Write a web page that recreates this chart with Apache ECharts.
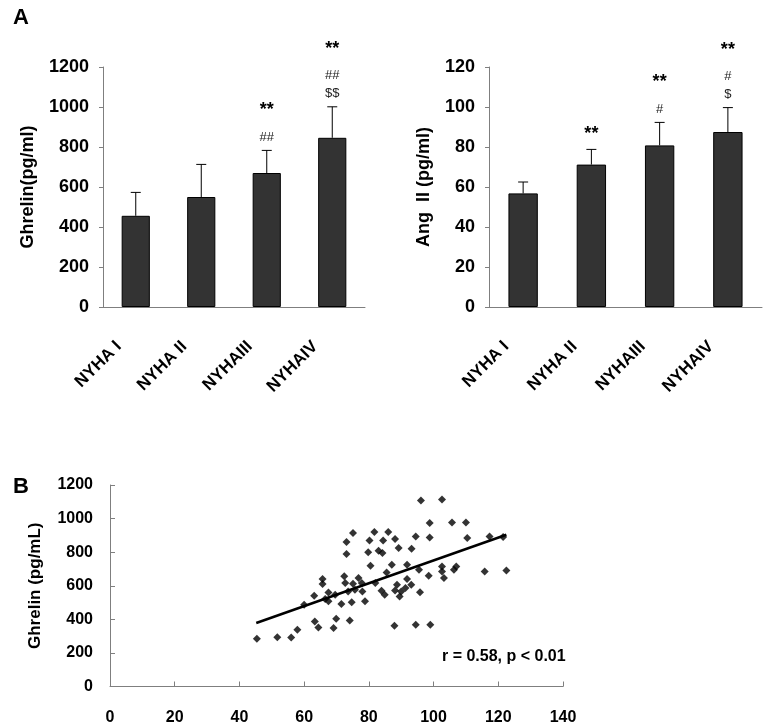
<!DOCTYPE html>
<html>
<head>
<meta charset="utf-8">
<script src="https://cdn.jsdelivr.net/npm/echarts@6/dist/echarts.min.js"></script>
<style>
  html, body { margin: 0; padding: 0; background: #fff; }
  #chart { width: 768px; height: 727px; }
</style>
</head>
<body>
<div id="chart"></div>
<script>
// bar panels
const cats = ['NYHA I', 'NYHA II', 'NYHAIII', 'NYHAIV'];
const ghrelinMean = [456, 550, 670, 846];
const ghrelinSD = [117, 163, 113, 155];
const ghrelinStars = ['', '', '**', '**'];
const ghrelinHash = ['', '', '##', '##'];
const ghrelinDollar = ['', '', '', '$$'];

const angMean = [56.8, 71.2, 80.8, 87.5];
const angSD = [5.7, 7.6, 11.5, 12.2];
const angStars = ['', '**', '**', '**'];
const angHash = ['', '', '#', '#'];
const angDollar = ['', '', '', '$'];

// scatter panel: Ang II vs Ghrelin
const scatterX = [45.4, 51.7, 56.0, 57.9, 60.0, 63.3, 64.4, 63.1, 65.7, 65.7, 66.5, 67.5, 67.5, 69.6, 69.1, 69.9,
  71.5, 72.4, 72.7, 73.1, 73.1, 73.6, 74.1, 74.7, 75.1, 75.1, 75.7, 76.8, 77.8, 78.0, 78.8, 79.8, 80.2, 80.5,
  81.7, 82.0, 83.0, 83.9, 84.2, 84.4, 84.9, 85.5, 86.0, 87.1, 87.9, 88.1, 88.1, 88.7, 89.2, 89.5, 90.0, 91.3,
  91.8, 91.8, 93.1, 93.2, 94.5, 94.5, 95.5, 95.8, 96.1, 98.5, 98.8, 98.8, 99.0, 102.6, 102.6, 102.6, 103.2,
  105.7, 106.3, 107.0, 110.0, 110.4, 115.8, 117.3, 121.5, 122.5];
const scatterY = [284, 294, 292, 338, 487, 387, 352, 540, 640, 610, 521, 560, 507, 546, 348, 403,
  491, 656, 616, 860, 789, 566, 393, 501, 914, 612, 576, 646, 616, 566, 507, 799, 870, 719,
  920, 616, 809, 570, 795, 870, 546, 679, 920, 725, 362, 878, 572, 606, 825, 536, 566, 586,
  725, 640, 606, 821, 894, 368, 695, 562, 1107, 660, 974, 888, 368, 1113, 715, 685, 646,
  977, 695, 715, 977, 884, 685, 894, 890, 691];
const fitX = [45.2, 122.5];
const fitY = [378, 904];

const axisGray = '#7f7f7f';
const font = 'Arial, "Liberation Sans", sans-serif';
const plain = v => String(v);

const errorBars = (xi, yi, means, sds) => ({
  type: 'custom',
  xAxisIndex: xi, yAxisIndex: yi,
  data: means.map((m, i) => [i, m, sds[i]]),
  z: 5,
  renderItem: (params, api) => {
    const i = api.value(0), m = api.value(1), e = api.value(2);
    const a = api.coord([i, m]);
    const b = api.coord([i, m + e]);
    return {
      type: 'group',
      children: [
        { type: 'line', shape: { x1: a[0], y1: a[1], x2: b[0], y2: b[1] }, style: { stroke: '#000', lineWidth: 1 } },
        { type: 'line', shape: { x1: b[0] - 5, y1: b[1], x2: b[0] + 5, y2: b[1] }, style: { stroke: '#000', lineWidth: 1 } }
      ]
    };
  }
});

const marks = (xi, yi, means, sds, stars, hash, dollar) => ({
  type: 'custom',
  xAxisIndex: xi, yAxisIndex: yi,
  data: means.map((m, i) => [i, m + sds[i]]),
  z: 6,
  renderItem: (params, api) => {
    const i = params.dataIndex;
    const p = api.coord([api.value(0), api.value(1)]);
    const kids = [];
    let y = p[1] - 13;
    const syms = [dollar[i], hash[i]].filter(s => s);
    syms.forEach(s => {
      kids.push({ type: 'text', x: p[0], y: y, style: { text: s, font: '13px ' + font, fill: '#222', align: 'center', verticalAlign: 'middle' } });
      y -= 18;
    });
    if (stars[i]) {
      const sy = syms.length ? y + 18 - 27 : p[1] - 15;
      kids.push({ type: 'text', x: p[0], y: sy, style: { text: stars[i], font: 'bold 18px ' + font, fill: '#000', align: 'center', verticalAlign: 'middle' } });
    }
    return { type: 'group', children: kids };
  }
});

const catAxis = (gi) => ({
  type: 'category', gridIndex: gi, data: cats,
  axisLine: { lineStyle: { color: axisGray, width: 1 } },
  axisTick: { inside: true, length: 5, lineStyle: { color: axisGray } },
  axisLabel: { rotate: 45, margin: 20, padding: [0, 24, 0, 0], color: '#000', fontWeight: 'bold', fontSize: 17, fontFamily: font, interval: 0 }
});

const valAxis = (gi, max, interval, name, gap) => ({
  type: 'value', gridIndex: gi, min: 0, max: max, interval: interval,
  name: name, nameLocation: 'middle', nameGap: gap,
  nameTextStyle: { color: '#000', fontWeight: 'bold', fontSize: 18, fontFamily: font },
  axisLine: { show: true, lineStyle: { color: axisGray, width: 1 } },
  axisTick: { show: true, length: 4, lineStyle: { color: axisGray } },
  axisLabel: { margin: 14, color: '#000', fontWeight: 'bold', fontSize: 18, fontFamily: font, formatter: plain },
  splitLine: { show: false }
});

const chart = echarts.init(document.getElementById('chart'));
chart.setOption({
  backgroundColor: '#fff',
  animation: false,
  grid: [
    { left: 103, top: 67, width: 262, height: 240 },
    { left: 489, top: 67, width: 273, height: 240 },
    { left: 110, top: 485, width: 453, height: 201.5 }
  ],
  xAxis: [
    catAxis(0),
    catAxis(1),
    {
      type: 'value', gridIndex: 2, min: 0, max: 140, interval: 20,
      axisLine: { lineStyle: { color: axisGray, width: 1 } },
      axisTick: { inside: true, length: 5, lineStyle: { color: axisGray } },
      axisLabel: { margin: 23, color: '#000', fontWeight: 'bold', fontSize: 16, fontFamily: font, formatter: plain },
      splitLine: { show: false }
    }
  ],
  yAxis: [
    valAxis(0, 1200, 200, 'Ghrelin(pg/ml)', 66),
    valAxis(1, 120, 20, 'Ang  II (pg/ml)', 56),
    {
      type: 'value', gridIndex: 2, min: 0, max: 1200, interval: 200,
      name: 'Ghrelin (pg/mL)', nameLocation: 'middle', nameGap: 66,
      nameTextStyle: { color: '#000', fontWeight: 'bold', fontSize: 17, fontFamily: font },
      axisLine: { show: true, lineStyle: { color: axisGray, width: 1 } },
      axisTick: { show: true, inside: true, length: 5, lineStyle: { color: axisGray } },
      axisLabel: { margin: 17, color: '#000', fontWeight: 'bold', fontSize: 16, fontFamily: font, formatter: plain },
      splitLine: { show: false }
    }
  ],
  series: [
    { type: 'bar', xAxisIndex: 0, yAxisIndex: 0, data: ghrelinMean, barWidth: '43%',
      itemStyle: { color: '#333', borderColor: '#000', borderWidth: 1 } },
    errorBars(0, 0, ghrelinMean, ghrelinSD),
    marks(0, 0, ghrelinMean, ghrelinSD, ghrelinStars, ghrelinHash, ghrelinDollar),
    { type: 'bar', xAxisIndex: 1, yAxisIndex: 1, data: angMean, barWidth: '43%',
      itemStyle: { color: '#333', borderColor: '#000', borderWidth: 1 } },
    errorBars(1, 1, angMean, angSD),
    marks(1, 1, angMean, angSD, angStars, angHash, angDollar),
    { type: 'scatter', xAxisIndex: 2, yAxisIndex: 2, symbol: 'diamond', symbolSize: 8,
      itemStyle: { color: '#000' }, data: scatterX.map((x, i) => [x, scatterY[i]]) },
    { type: 'line', xAxisIndex: 2, yAxisIndex: 2, symbol: 'none', z: 4,
      lineStyle: { color: '#000', width: 2.5 }, data: fitX.map((x, i) => [x, fitY[i]]) }
  ],
  graphic: [
    { type: 'text', left: 13, top: 7, style: { text: 'A', font: 'bold 22px ' + font, fill: '#000' } },
    { type: 'text', left: 13, top: 476, style: { text: 'B', font: 'bold 22px ' + font, fill: '#000' } },
    { type: 'text', left: 442, top: 649, style: { text: 'r = 0.58, p < 0.01', font: 'bold 16px ' + font, fill: '#000' } }
  ]
});
</script>
</body>
</html>
